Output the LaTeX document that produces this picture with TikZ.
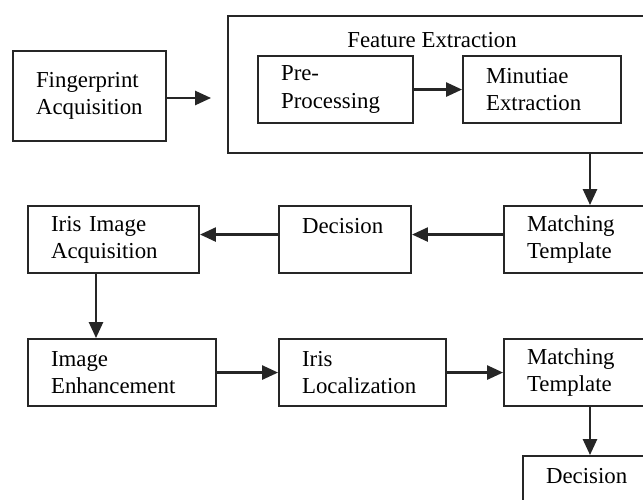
\documentclass[tikz,border=0pt]{standalone}
\usepackage{fontspec}
\setmainfont{Liberation Serif}
\usetikzlibrary{arrows.meta,positioning}
\tikzstyle{procbox} = [draw=black!85, line width=1.2pt, rectangle, anchor=north west,
    align=left, inner xsep=0.46cm, inner ysep=0pt, minimum height=1.34cm,
    font=\fontsize{13}{15.5}\selectfont]
\tikzstyle{outerbox} = [draw=black!85, line width=1.2pt, rectangle, anchor=north west,
    minimum width=8.66cm, minimum height=2.74cm, inner sep=0pt]
\tikzstyle{titletext} = [font=\fontsize{13}{15.5}\selectfont]
\tikzstyle{myarrow} = [draw=black!85, line width=1.2pt, -{Triangle[length=9pt,width=8pt]}]

\begin{document}
\begin{tikzpicture}[x=0.02cm, y=-0.02cm]
                \clip (0,0) rectangle (643,500);
                \fill[white] (0,0) rectangle (643,500);
                % fingerprint part
                \node [procbox, text width=2.14cm, minimum height=1.8cm] (fing) at (12,50) {Fingerprint\\Acquisition};
                \node [outerbox] (feat) at (227,15) {};
                \node [titletext] (feattitle) at (432,40) {Feature Extraction};
                \node [procbox, text width=2.18cm] (prep) at (257,55) {Pre-\\Processing};
                \node [procbox, text width=2.24cm] (minu) at (462,55) {Minutiae\\Extraction};
                % iris part
                \node [procbox, text width=2.5cm] (irisacq) at (27,205) {Iris Image\\Acquisition};
                \node [procbox, text width=1.72cm] (dec1) at (278,205) {Decision\\\mbox{}};
                \node [procbox, text width=2.42cm] (match1) at (503,205) {Matching\\Template};
                \node [procbox, text width=2.84cm] (enh) at (27,338) {Image\\Enhancement};
                \node [procbox, text width=2.42cm] (loc) at (278,338) {Iris\\Localization};
                \node [procbox, text width=2.42cm] (match2) at (503,338) {Matching\\Template};
                \node [procbox, text width=1.8cm] (dec2) at (522,455) {Decision\\\mbox{}};
                % connectors
                \coordinate (fingtip) at (211,98);
                \coordinate (colx) at (590,0);
                \coordinate (irisx) at (96,0);
                \draw [myarrow] (fing.east |- fingtip) -- (fingtip);
                \draw [myarrow] (prep) -- (minu);
                \draw [myarrow] (feat.south -| colx) -- (match1.north -| colx);
                \draw [myarrow] ([yshift=0.1cm]match1.west) -- ([yshift=0.1cm]dec1.east);
                \draw [myarrow] ([yshift=0.1cm]dec1.west) -- ([yshift=0.1cm]irisacq.east);
                \draw [myarrow] (irisacq.south -| irisx) -- (enh.north -| irisx);
                \draw [myarrow] (enh) -- (loc);
                \draw [myarrow] (loc) -- (match2);
                \draw [myarrow] (match2.south -| colx) -- (dec2.north -| colx);
            \end{tikzpicture}
\end{document}
